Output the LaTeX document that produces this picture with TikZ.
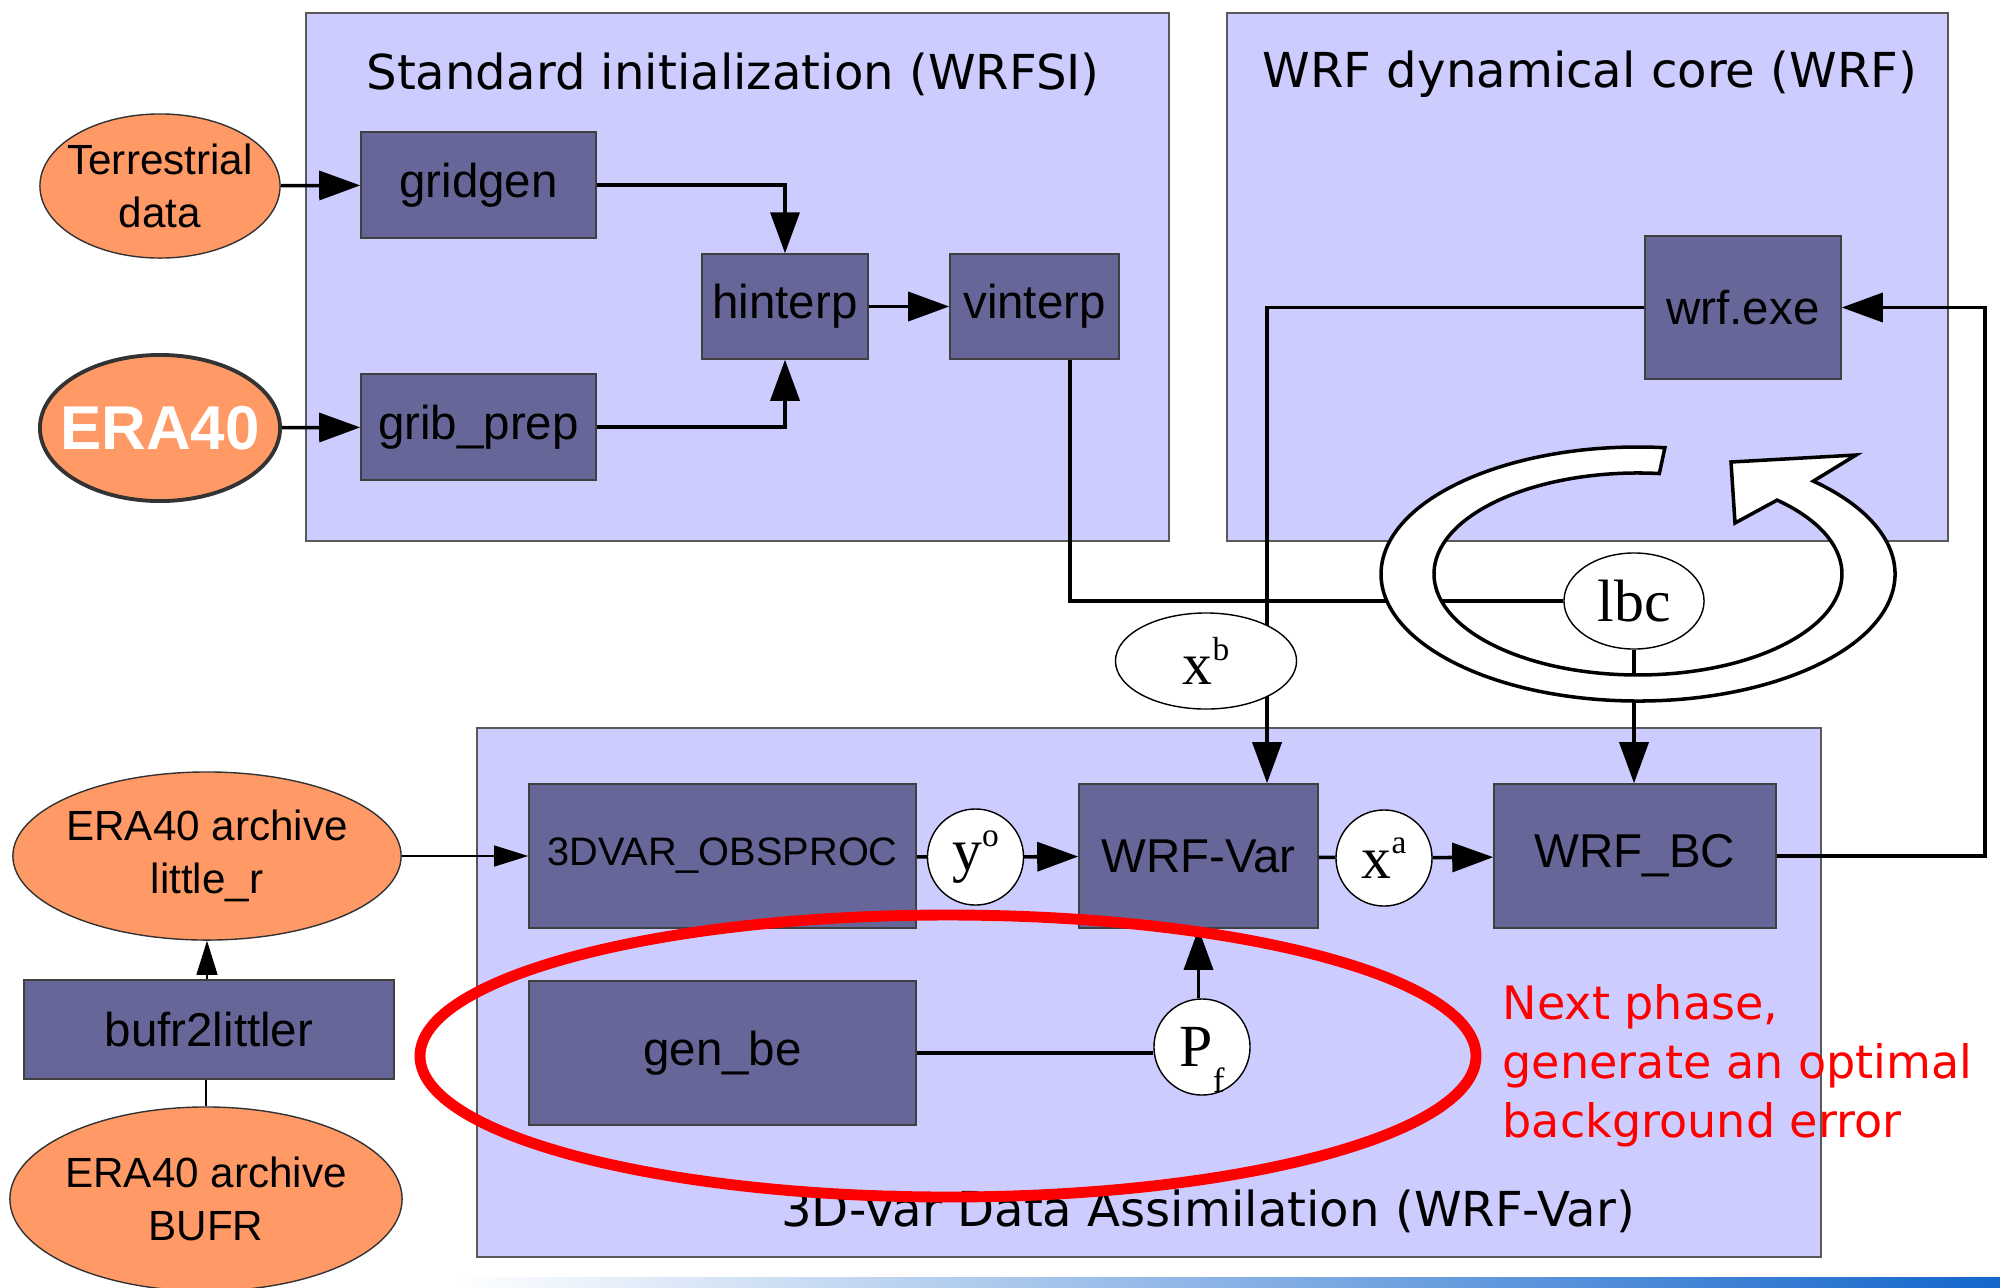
\documentclass[tikz,border=0pt]{standalone}
\usepackage{fontspec}
\setmainfont{Liberation Sans}
\newfontfamily\titlefont{DejaVu Sans}
\newfontfamily\varfont{Liberation Serif}
\usetikzlibrary{positioning,calc,arrows.meta,shapes.geometric}
\definecolor{panelblue}{HTML}{CCCCFF}
\definecolor{procblue}{HTML}{666699}
\definecolor{srcorange}{HTML}{FF9966}
\definecolor{noteRed}{HTML}{FF0000}
\definecolor{barblue}{HTML}{1466CC}
\newcommand{\supx}[1]{\raisebox{7pt}{\fontsize{9.5}{10}\selectfont #1}}
\newcommand{\subx}[1]{\smash{\raisebox{-7.4pt}{\fontsize{10}{10}\selectfont #1}}}

\begin{document}
\begin{tikzpicture}[x=0.01cm,y=0.01cm,
  panel/.style={fill=panelblue,draw=black!65,line width=0.4pt},
  paneltitle/.style={font=\titlefont\fontsize{13.7}{16}\selectfont,anchor=base},
  proc/.style={rectangle,fill=procblue,draw=black!75,line width=0.4pt,inner sep=0pt,font=\fontsize{13.5}{16}\selectfont},
  src/.style={ellipse,fill=srcorange,draw=black!80,line width=0.4pt,inner sep=0pt},
  srctext/.style={align=center,font=\fontsize{12}{15}\selectfont},
  var/.style={ellipse,fill=white,draw=black,line width=0.4pt,inner sep=0pt,font=\varfont\fontsize{17}{20}\selectfont},
  flow/.style={line width=1pt,-{Triangle[length=0.41cm,width=0.29cm]}},
  link/.style={line width=1pt},
  thinflow/.style={line width=0.3pt,-{Triangle[length=0.34cm,width=0.21cm]}}]
  \useasboundingbox (0,0) rectangle (2000,-1287);

  % panels
  \draw[panel] (306,-13) rectangle (1169,-541);
  \draw[panel] (1227,-13) rectangle (1948,-541);
  \draw[panel] (477,-728) rectangle (1821,-1257);
  \node[paneltitle] (sititle) at (733,-89) {Standard initialization (WRFSI)};
  \node[paneltitle] (wrftitle) at (1590,-87) {WRF dynamical core (WRF)};
  \node[paneltitle] (vartitle) at (1208,-1226) {3D-Var Data Assimilation (WRF-Var)};

  % inputs
  \node[src,minimum width=2.4cm,minimum height=1.44cm,
    label={[srctext]center:Terrestrial\\data}] (terr) at (160,-186) {};
  \node[src,line width=1.1pt,minimum width=2.4cm,minimum height=1.46cm,
    label={[text=white,font=\bfseries\fontsize{17.6}{20}\selectfont]center:ERA40}] (era) at (160,-428) {};
  \node[src,minimum width=3.88cm,minimum height=1.68cm,
    label={[srctext]center:ERA40 archive\\little\_r}] (littler) at (207,-856) {};
  \node[src,minimum width=3.92cm,minimum height=1.84cm,
    label={[srctext]center:ERA40 archive\\BUFR}] (bufr) at (206,-1199) {};
  \node[proc,minimum width=3.7cm,minimum height=0.99cm] (bufrtool) at (209,-1029.5) {bufr2littler};

  % WRFSI
  \node[proc,minimum width=2.35cm,minimum height=1.06cm] (gridgen) at (478.5,-185) {gridgen};
  \node[proc,minimum width=2.35cm,minimum height=1.06cm] (gribprep) at (478.5,-427) {grib\_prep};
  \node[proc,minimum width=1.66cm,minimum height=1.05cm] (hinterp) at (785,-306.5) {hinterp};
  \node[proc,minimum width=1.69cm,minimum height=1.05cm] (vinterp) at (1034.5,-306.5) {vinterp};

  % WRF
  \node[proc,minimum width=1.96cm,minimum height=1.43cm] (wrfexe) at (1743,-307.5) {wrf.exe};

  % WRF-Var
  \node[proc,minimum width=3.87cm,minimum height=1.44cm,font=\fontsize{11.3}{13}\selectfont] (obsproc) at (722.5,-856) {3DVAR\_OBSPROC};
  \node[proc,minimum width=3.87cm,minimum height=1.44cm] (genbe) at (722.5,-1053) {gen\_be};
  \node[proc,minimum width=2.39cm,minimum height=1.44cm] (wrfvar) at (1198.5,-856) {WRF-Var};
  \node[proc,minimum width=2.82cm,minimum height=1.44cm] (wrfbc) at (1635,-856) {WRF\_BC};

  \node[var,minimum width=1.40cm,minimum height=0.96cm] (lbc) at (1634,-601) {lbc};
  \node[var,circle,minimum size=0.96cm] (yo) at (975.5,-857) {y\supx{o}};
  \node[var,circle,minimum size=0.96cm] (xa) at (1384,-858) {x\supx{a}};
  \node[var,circle,minimum size=0.96cm] (pf) at (1202,-1047) {P\subx{f}};

  % connectors
  \draw[flow] (terr) -- (gridgen);
  \draw[flow] (era) -- (gribprep);
  \draw[flow] (gridgen.east) -| (hinterp.north);
  \draw[flow] (gribprep.east) -| (hinterp.south);
  \draw[flow] (hinterp) -- (vinterp);
  \draw[link] ([xshift=0.355cm]vinterp.south) |- (lbc.west);
  \draw[flow] (wrfexe.west) -| ([xshift=0.685cm]wrfvar.north);
  \node[var,minimum width=1.81cm,minimum height=0.96cm] (xb) at (1206,-661) {x\supx{b}};
  \draw[flow] (lbc.south) -- (lbc.south |- wrfbc.north);
  \coordinate (rail) at (1985,-600);
  \draw[flow] (wrfbc.east) -| (rail) |- (wrfexe.east);

  \draw[thinflow] (littler) -- (obsproc);
  \draw[thinflow] (littler.south |- bufrtool.north) -- (littler.south);
  \draw[line width=0.3pt] (bufr.north) -- (bufr.north |- bufrtool.south);

  \draw[link] (obsproc) -- (yo);
  \draw[flow] (yo) -- (wrfvar);
  \draw[link] (wrfvar) -- (xa);
  \draw[flow] (xa) -- (wrfbc);
  \draw[link] (genbe.east) -- (genbe.east -| pf.west);
  \draw[flow] (wrfvar.south |- pf.north) -- (wrfvar.south);

  % cycling loop
  \draw[line width=1pt,fill=white] (1664.9,-447.7)
    arc[start angle=84,end angle=407,x radius=257,y radius=127]
    -- (1856,-455) -- (1731,-462) -- (1735,-523) -- (1777.1,-500.1)
    arc[start angle=47,end angle=-276,x radius=204,y radius=101] -- cycle;

  % next phase
  \draw[noteRed,line width=3.1pt] (948,-1056) ellipse[x radius=528,y radius=141];
  \node[anchor=north west,inner sep=0pt,align=left,text=noteRed,
    font=\titlefont\fontsize{13.1}{16.8}\selectfont] (note) at (1502,-984)
    {Next phase,\\generate an optimal\\background error};

  \shade[left color=white,right color=barblue] (451,-1277) rectangle (2000,-1287);
\end{tikzpicture}
\end{document}
